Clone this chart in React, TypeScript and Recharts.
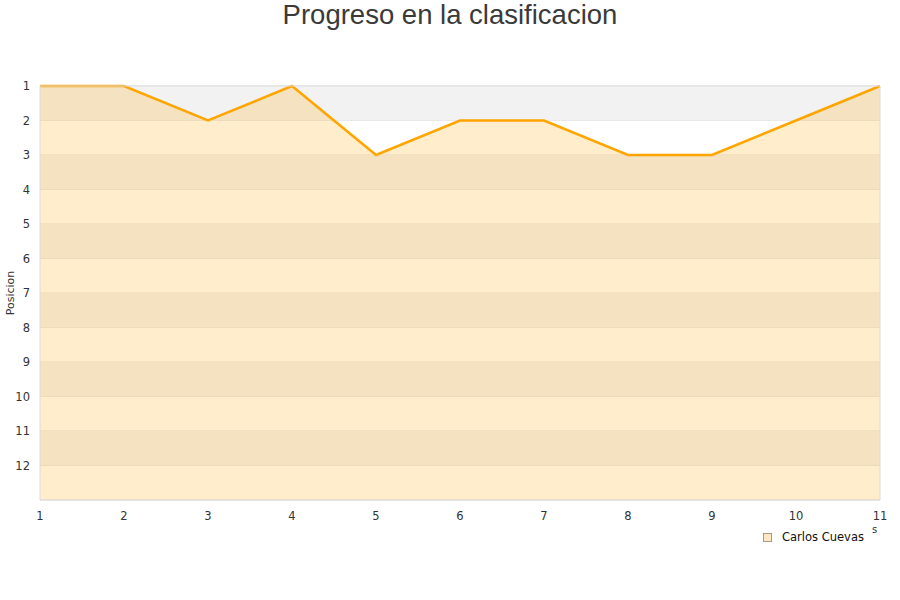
import React from 'react';
import { AreaChart, Area, XAxis, YAxis, CartesianGrid, ReferenceArea } from 'recharts';

const jornadas = [1, 2, 3, 4, 5, 6, 7, 8, 9, 10, 11];
const posiciones = [1, 1, 2, 1, 3, 2, 2, 3, 3, 2, 1];
const yTicks = [1, 2, 3, 4, 5, 6, 7, 8, 9, 10, 11, 12];
const grayBands = [1, 3, 5, 7, 9, 11];
const seriesName = 'Carlos Cuevas';
const title = 'Progreso en la clasificacion';

const data = jornadas.map((j, i) => ({ jornada: j, pos: posiciones[i] }));

const font = 'DejaVu Sans';

export default function App() {
  return (
    <div style={{ position: 'absolute', left: 0, top: 0, width: 900, height: 600, background: '#fff' }}>
      <div style={{ position: 'absolute', left: 0, top: -1, width: 900, textAlign: 'center', fontFamily: 'Liberation Sans, Arial, sans-serif', fontSize: 27.5, color: '#3a3a3a', lineHeight: '32px' }}>
        {title}
      </div>
      <div style={{ position: 'absolute', left: 872, top: 524, fontFamily: font, fontSize: 10, color: '#333' }}>s</div>
      <div style={{ position: 'absolute', left: 763, top: 529, display: 'flex', alignItems: 'center', fontFamily: font, fontSize: 11.5, color: '#111', lineHeight: '16px' }}>
        <span style={{ display: 'inline-block', width: 7, height: 7, background: '#fde8c2', border: '1px solid #a89a80', marginRight: 10 }} />
        <span>{seriesName}</span>
      </div>
      <AreaChart width={900} height={600} data={data} margin={{ top: 86, right: 20, bottom: 70, left: 0 }}>
        {grayBands.map((b) => (
          <ReferenceArea key={b} x1={1} x2={11} y1={b} y2={b + 1} fill="#f2f2f2" fillOpacity={1} stroke="none" ifOverflow="hidden" />
        ))}
        <CartesianGrid vertical={false} stroke="#e0e0e0" />
        <XAxis
          dataKey="jornada"
          type="number"
          domain={[1, 11]}
          ticks={jornadas}
          axisLine={false}
          tickLine={false}
          height={30}
          tick={{ fontSize: 11.5, fill: '#333', fontFamily: font }}
          tickMargin={6}
          interval={0}
        />
        <YAxis
          type="number"
          domain={[1, 13]}
          reversed
          ticks={yTicks}
          width={40}
          axisLine={false}
          tickLine={false}
          interval={0}
          tick={{ fontSize: 11.5, fill: '#333', fontFamily: font }}
          tickMargin={4}
          label={{ value: 'Posicion', angle: -90, position: 'insideLeft', offset: 10, style: { fontSize: 11, fill: '#333', fontFamily: font, textAnchor: 'middle' } }}
        />
        <Area
          type="linear"
          dataKey="pos"
          name={seriesName}
          stroke="#ffa500"
          strokeWidth={2.5}
          fill="#ffa500"
          fillOpacity={0.2}
          baseValue="dataMax"
          dot={false}
          activeDot={false}
          isAnimationActive={false}
        />
        <ReferenceArea x1={1} x2={11} y1={1} y2={13} fill="none" stroke="#dcdcdc" strokeWidth={1} />
      </AreaChart>
    </div>
  );
}
